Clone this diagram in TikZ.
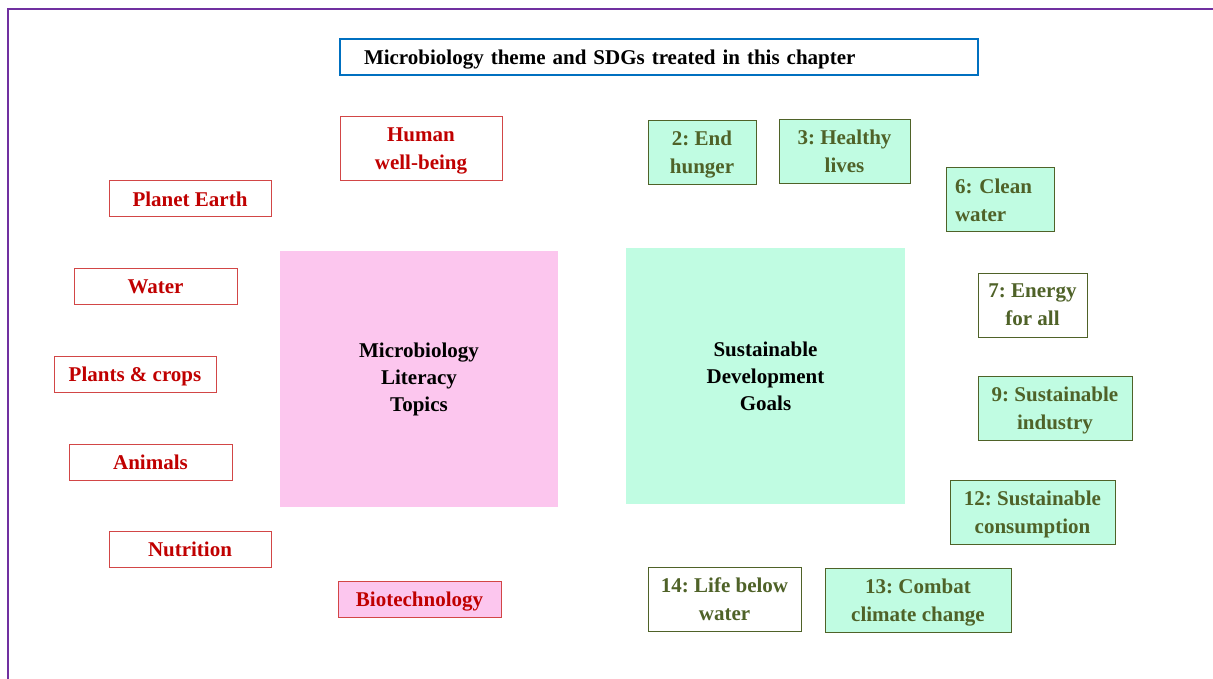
\documentclass[tikz,border=0pt]{standalone}
\usepackage{fontspec}
\setmainfont{Liberation Serif}
\usetikzlibrary{positioning}
\frenchspacing

\definecolor{frameviolet}{RGB}{112,48,160}
\definecolor{titleblue}{RGB}{0,112,192}
\definecolor{topicred}{RGB}{192,0,0}
\definecolor{topicline}{RGB}{210,70,70}
\definecolor{topicpink}{RGB}{252,198,238}
\definecolor{goalgreen}{RGB}{192,252,226}
\definecolor{goaltext}{RGB}{79,98,40}

\begin{document}
\begin{tikzpicture}[
  x=1pt, y=-1pt,
  title/.style={draw=titleblue, line width=1.5pt, fill=white, minimum height=36pt,
    text width=590pt, inner xsep=24pt, align=left, text depth=0pt,
    font=\fontsize{21}{26}\selectfont\bfseries},
  topic/.style={draw=topicline, line width=1pt, text=topicred, align=center,
    minimum height=36pt, text depth=0pt, font=\fontsize{21}{28}\selectfont\bfseries},
  goal/.style={draw=goaltext, line width=1pt, fill=goalgreen, text=goaltext, align=center,
    minimum height=64pt, text depth=0pt, font=\fontsize{21}{28}\selectfont\bfseries},
  bigbox/.style={minimum width=278pt, minimum height=256pt, align=center,
    font=\fontsize{21}{27}\selectfont\bfseries}
]
\useasboundingbox (0,0) rectangle (1213,679);

% Frame
\draw[frameviolet, line width=2pt] (8,685) |- (1220,9);

% Title
\node[title] (head) at (659,57) {Microbiology theme and SDGs treated in this chapter};

% Central blocks
\node[bigbox, fill=topicpink] (MLT) at (419,379) {Microbiology\\Literacy\\Topics};
\node[bigbox, fill=goalgreen, minimum width=279pt] (SDG) at (765.5,376) {Sustainable\\Development\\Goals};

% Microbiology topics
\node[topic, minimum width=162pt, minimum height=64pt] (human) at (421,149) {Human\\well-being};
\node[topic, minimum width=162pt] (earth) at (190,199) {Planet Earth};
\node[topic, minimum width=163pt] (water) at (155.5,286.5) {Water};
\node[topic, minimum width=162pt] (plants) at (135,374) {Plants \& crops};
\node[topic, minimum width=163pt] (animals) at (150.5,462) {Animals};
\node[topic, minimum width=162pt] (nutrition) at (190,549.5) {Nutrition};
\node[topic, minimum width=163pt, fill=topicpink] (biotech) at (419.5,599) {Biotechnology};

% Sustainable development goals
\node[goal, minimum width=108pt] (sdg2) at (702,152.5) {2: End\\hunger};
\node[goal, minimum width=131pt] (sdg3) at (844.5,151.5) {3: Healthy\\lives};
\node[goal, text width=90pt, inner xsep=9pt, align=left, text depth=28pt] (sdg6) at (1000,200) {6: Clean\\water};
\node[goal, minimum width=109pt, fill=white] (sdg7) at (1032.5,305) {7: Energy\\for all};
\node[goal, minimum width=154pt] (sdg9) at (1055,408) {9: Sustainable\\industry};
\node[goal, minimum width=165pt] (sdg12) at (1032.5,512) {12: Sustainable\\consumption};
\node[goal, minimum width=153pt, fill=white] (sdg14) at (724.5,599) {14: Life below\\water};
\node[goal, minimum width=186pt] (sdg13) at (918,600) {13: Combat\\climate change};

\end{tikzpicture}
\end{document}
